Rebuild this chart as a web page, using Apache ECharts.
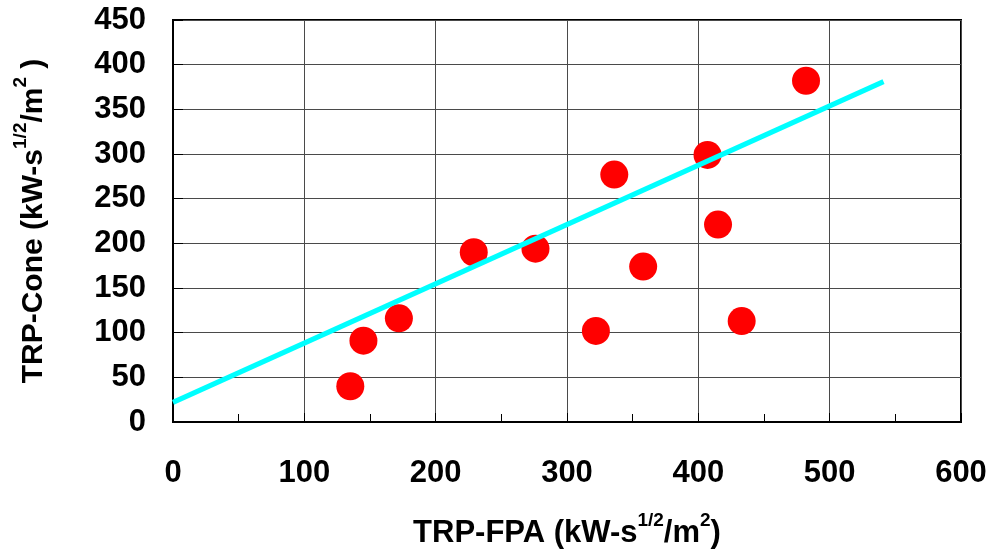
<!DOCTYPE html>
<html>
<head>
<meta charset="utf-8">
<script src="https://cdn.jsdelivr.net/npm/echarts@6/dist/echarts.min.js"></script>
<style>
  html, body { margin: 0; padding: 0; background: #fff; }
  #chart { width: 991px; height: 559px; }
</style>
</head>
<body>
<div id="chart"></div>
<script>
// TRP measured in the flame propagation apparatus (x) vs. the cone calorimeter (y)
const trpFpa  = [135, 145, 172, 229, 276, 322, 336, 358, 407, 415, 433, 482];
const trpCone = [40, 91, 116, 190, 194, 102, 277, 174, 299, 221, 113, 382];

// Least-squares trend line endpoints
const fitX = [0, 541];
const fitY = [22, 381];

const FONT = '"Liberation Sans", Arial, sans-serif';

const chart = echarts.init(document.getElementById('chart'), null, { renderer: 'canvas' });

function titleRich(size, supSize) {
  return {
    b:   { fontFamily: FONT, fontWeight: 'bold', fontSize: size, color: '#000', lineHeight: 38, verticalAlign: 'bottom' },
    sup: { fontFamily: FONT, fontWeight: 'bold', fontSize: supSize, color: '#000', lineHeight: 38, verticalAlign: 'top', padding: [0, 0, 15, 0] }
  };
}

chart.setOption({
  animation: false,
  backgroundColor: '#fff',
  grid: {
    left: 173, right: 30, top: 20, bottom: 137,
    show: true, borderColor: '#000', borderWidth: 2, backgroundColor: 'transparent'
  },
  xAxis: {
    type: 'value',
    min: 0, max: 600, interval: 100,
    name: '{b|TRP-FPA (kW-s}{sup|1/2}{b|/m}{sup|2}{b|)}',
    nameLocation: 'middle',
    nameGap: 89,
    nameTextStyle: { rich: titleRich(31, 19) },
    axisLine: { show: true, onZero: false, lineStyle: { color: '#000', width: 2 } },
    axisTick: { show: true, inside: true, length: 9, lineStyle: { color: '#000', width: 1 } },
    minorTick: { show: true, splitNumber: 2, length: 8, lineStyle: { color: '#000', width: 1 } },
    axisLabel: { margin: 36, fontFamily: FONT, fontWeight: 'bold', fontSize: 31, color: '#000' },
    splitLine: { show: true, lineStyle: { color: '#4a4a4a', width: 1 } }
  },
  yAxis: {
    type: 'value',
    min: 0, max: 450, interval: 50,
    name: '{b|TRP-Cone (kW-s}{sup|1/2}{b|/m}{sup|2}{b| )}',
    nameLocation: 'middle',
    nameRotate: 90,
    nameGap: 124,
    nameTextStyle: { rich: titleRich(30, 19) },
    axisLine: { show: true, onZero: false, lineStyle: { color: '#000', width: 2 } },
    axisTick: { show: true, inside: true, length: 10, lineStyle: { color: '#000', width: 1 } },
    axisLabel: { margin: 27, fontFamily: FONT, fontWeight: 'bold', fontSize: 31, color: '#000' },
    splitLine: { show: true, lineStyle: { color: '#4a4a4a', width: 1 } }
  },
  series: [
    {
      type: 'scatter',
      data: trpFpa.map((x, i) => [x, trpCone[i]]),
      symbol: 'circle',
      symbolSize: 28,
      itemStyle: { color: '#ff0000', opacity: 1 },
      z: 2
    },
    {
      type: 'line',
      data: fitX.map((x, i) => [x, fitY[i]]),
      showSymbol: false,
      symbol: 'none',
      lineStyle: { color: '#00ffff', width: 5 },
      z: 3
    }
  ]
});
</script>
</body>
</html>
